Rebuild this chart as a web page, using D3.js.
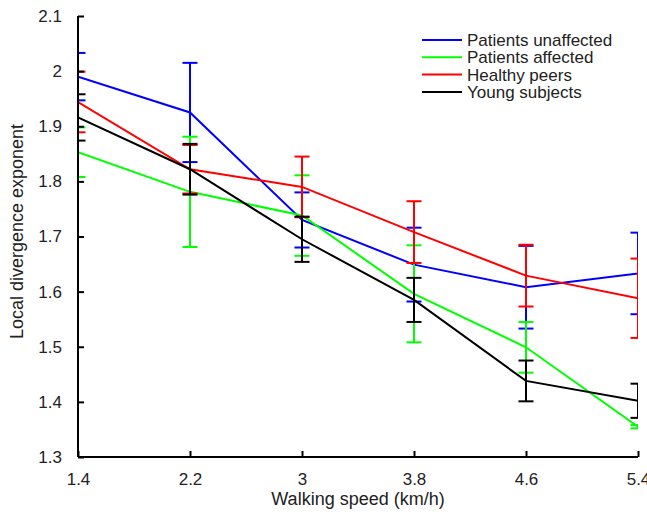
<!DOCTYPE html>
<html>
<head>
<meta charset="utf-8">
<script src="https://cdn.jsdelivr.net/npm/d3@7"></script>
<style>
  body { margin: 0; background: #fff; }
  text { font-family: "Liberation Sans", Arial, sans-serif; fill: #222; }
</style>
</head>
<body>
<div class="chart"></div>
<script>
'use strict';

// walking speeds (km/h)
const speeds = [1.4, 2.2, 3.0, 3.8, 4.6, 5.4];
const xTickLabels = ["1.4", "2.2", "3", "3.8", "4.6", "5.4"];
const yTicks = [1.3, 1.4, 1.5, 1.6, 1.7, 1.8, 1.9, 2.0, 2.1];

// series: mean and half-length of error bar
const seriesNames = ["Patients unaffected", "Patients affected", "Healthy peers", "Young subjects"];
const unaffectedMean = [1.990, 1.925, 1.730, 1.649, 1.608, 1.633];
const unaffectedErr  = [0.043, 0.090, 0.050, 0.067, 0.075, 0.074];
const affectedMean   = [1.853, 1.781, 1.738, 1.596, 1.499, 1.355];
const affectedErr    = [0.045, 0.100, 0.073, 0.088, 0.046, 0.003];
const peersMean      = [1.944, 1.822, 1.790, 1.708, 1.629, 1.588];
const peersErr       = [0.055, 0.044, 0.055, 0.056, 0.056, 0.072];
const youngMean      = [1.916, 1.822, 1.695, 1.585, 1.438, 1.402];
const youngErr       = [0.042, 0.046, 0.041, 0.040, 0.037, 0.031];

const colors = ["#0000ff", "#00ff00", "#ff0000", "#000000"];

document.addEventListener('DOMContentLoaded', () => {

  // Canvas size
  const width = 647, height = 512;
  const margin = {top: 16, left: 78, right: 9, bottom: 55};
  const w = width - margin.left - margin.right;
  const h = height - margin.top - margin.bottom;

  const series = [
    {name: seriesNames[0], mean: unaffectedMean, err: unaffectedErr, color: colors[0]},
    {name: seriesNames[1], mean: affectedMean, err: affectedErr, color: colors[1]},
    {name: seriesNames[2], mean: peersMean, err: peersErr, color: colors[2]},
    {name: seriesNames[3], mean: youngMean, err: youngErr, color: colors[3]}
  ];

  const svg = d3.select(".chart")
    .append("svg")
    .attr("width", width)
    .attr("height", height)
    .append("g")
    .attr("transform", `translate(${margin.left}, ${margin.top})`);

  const xScale = d3.scaleLinear().domain([1.4, 5.4]).range([0, w]);
  const yScale = d3.scaleLinear().domain([1.3, 2.1]).range([h, 0]);

  // clip marks to the axes box
  svg.append("clipPath")
    .attr("id", "plot-clip")
    .append("rect")
    .attr("x", 0)
    .attr("y", -2)
    .attr("width", w)
    .attr("height", h + 4);

  const plot = svg.append("g").attr("clip-path", "url(#plot-clip)");
  const capHalf = 7.5;

  series.forEach(s => {
    const pts = speeds.map((x, i) => ({x: x, y: s.mean[i], e: s.err[i]}));

    const line = d3.line().x(d => xScale(d.x)).y(d => yScale(d.y));
    plot.append("path")
      .datum(pts)
      .attr("fill", "none")
      .attr("stroke", s.color)
      .attr("stroke-width", 2)
      .attr("d", line);

    // error bars
    const bars = plot.append("g")
      .attr("stroke", s.color)
      .attr("stroke-width", 2)
      .selectAll("g")
      .data(pts)
      .enter()
      .append("g");
    bars.append("line")
      .attr("x1", d => xScale(d.x))
      .attr("x2", d => xScale(d.x))
      .attr("y1", d => yScale(d.y - d.e))
      .attr("y2", d => yScale(d.y + d.e));
    bars.append("line")
      .attr("x1", d => xScale(d.x) - capHalf)
      .attr("x2", d => xScale(d.x) + capHalf)
      .attr("y1", d => yScale(d.y + d.e))
      .attr("y2", d => yScale(d.y + d.e));
    bars.append("line")
      .attr("x1", d => xScale(d.x) - capHalf)
      .attr("x2", d => xScale(d.x) + capHalf)
      .attr("y1", d => yScale(d.y - d.e))
      .attr("y2", d => yScale(d.y - d.e));
  });

  // x axis (ticks pointing inward)
  const xAxis = d3.axisBottom(xScale)
    .tickValues(speeds)
    .tickSize(-6)
    .tickPadding(16)
    .tickFormat((d, i) => xTickLabels[i]);
  const gx = svg.append("g")
    .attr("transform", `translate(0, ${h})`)
    .call(xAxis);

  // y axis
  const yAxis = d3.axisLeft(yScale)
    .tickValues(yTicks)
    .tickSize(-6)
    .tickPadding(16)
    .tickFormat(d => d3.format("~g")(+d.toFixed(1)));
  const gy = svg.append("g").call(yAxis);

  [gx, gy].forEach(g => {
    g.select(".domain").attr("stroke", "#000").attr("stroke-width", 2);
    g.selectAll(".tick line").attr("stroke", "#000").attr("stroke-width", 2);
    g.selectAll(".tick text")
      .style("font-size", "17px")
      .style("font-family", "'Liberation Sans', Arial, sans-serif")
      .attr("fill", "#222");
  });
  gx.select(".domain").attr("d", `M0,0H${w}`);
  gy.select(".domain").attr("d", `M0,${h}V0`);

  // axis titles
  svg.append("text")
    .attr("x", w / 2)
    .attr("y", h + 48)
    .attr("text-anchor", "middle")
    .style("font-size", "18px")
    .text("Walking speed (km/h)");
  svg.append("text")
    .attr("transform", "rotate(-90)")
    .attr("x", -h / 2 + 5)
    .attr("y", -55)
    .attr("text-anchor", "middle")
    .style("font-size", "18px")
    .text("Local divergence exponent");

  // legend
  const legend = svg.append("g")
    .attr("transform", "translate(344, 24)")
    .selectAll("g")
    .data(series)
    .enter()
    .append("g")
    .attr("transform", (d, i) => `translate(0, ${i * 17.3})`);
  legend.append("line")
    .attr("x1", 0)
    .attr("x2", 40)
    .attr("y1", 0)
    .attr("y2", 0)
    .attr("stroke", d => d.color)
    .attr("stroke-width", 2);
  legend.append("text")
    .attr("x", 45)
    .attr("y", 6)
    .style("font-size", "17px")
    .text(d => d.name);
});
</script>
</body>
</html>
